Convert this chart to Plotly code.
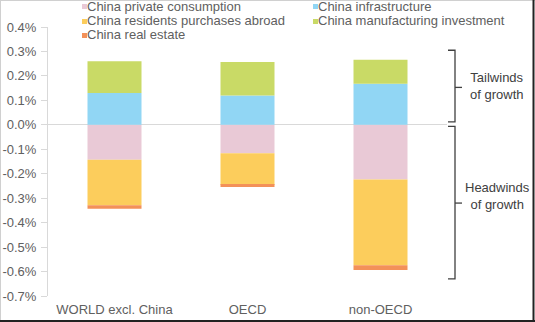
import plotly.graph_objects as go

# ---- data (percentage points) ----
categories = ["WORLD excl. China", "OECD", "non-OECD"]
series_names = [
    "China private consumption",
    "China infrastructure",
    "China residents purchases abroad",
    "China manufacturing investment",
    "China real estate",
]
private_consumption = [-0.143, -0.116, -0.224]
infrastructure = [0.130, 0.120, 0.168]
purchases_abroad = [-0.186, -0.130, -0.350]
manufacturing = [0.130, 0.137, 0.098]
real_estate = [-0.014, -0.008, -0.020]
series_values = [private_consumption, infrastructure, purchases_abroad, manufacturing, real_estate]
series_colors = ["#E9C9D6", "#91D6F4", "#FCCD5C", "#C9DA66", "#F39159"]

y_tick_values = [0.4, 0.3, 0.2, 0.1, 0.0, -0.1, -0.2, -0.3, -0.4, -0.5, -0.6, -0.7]
y_tick_labels = ["0.4%", "0.3%", "0.2%", "0.1%", "0.0%", "-0.1%", "-0.2%", "-0.3%",
                 "-0.4%", "-0.5%", "-0.6%", "-0.7%"]

# ---- layout geometry ----
W, H = 535, 322
ML, MR, MT, MB = 48, 88, 27, 26
PW, PH = W - ML - MR, H - MT - MB


def px_x(px):
    return (px - ML) / PW


def px_y(py):
    return (H - MB - py) / PH


FONT = "Liberation Sans, Arial, sans-serif"
GREY = "#606060"

fig = go.Figure()
for name, vals, col in zip(series_names, series_values, series_colors):
    fig.add_trace(go.Bar(x=categories, y=vals, name=name, marker=dict(color=col, line=dict(width=0)),
                         showlegend=False))

shapes = []
annotations = []

# manual legend (two columns, three rows)
leg_pos = [(82, 6), (313, 6), (82, 21), (313, 21), (82, 35)]
for (lx, ly), name, col in zip(leg_pos, series_names, series_colors):
    shapes.append(dict(type="rect", xref="paper", yref="paper",
                       x0=px_x(lx), x1=px_x(lx + 5), y0=px_y(ly + 3), y1=px_y(ly - 2),
                       fillcolor=col, line=dict(width=0)))
    annotations.append(dict(xref="paper", yref="paper", x=px_x(lx + 5), y=px_y(ly),
                            text=name, showarrow=False, xanchor="left", yanchor="middle",
                            borderpad=0, borderwidth=0,
                            font=dict(family=FONT, size=13, color=GREY)))

# brackets
br_col = "#404040"
xv, xl, xr = px_x(455), px_x(448), px_x(462)
for top, bot, mid in [(0.305, 0.012, 0.153), (-0.006, -0.63, -0.32)]:
    shapes.append(dict(type="path", xref="paper", yref="y",
                       path=f"M {xl},{top} L {xv},{top} L {xv},{bot} L {xl},{bot}",
                       line=dict(color=br_col, width=1.3)))
    shapes.append(dict(type="line", xref="paper", yref="y", x0=xv, x1=xr, y0=mid, y1=mid,
                       line=dict(color=br_col, width=1.3)))
annotations.append(dict(xref="paper", yref="y", x=px_x(497), y=0.16, text="Tailwinds<br>of growth",
                        showarrow=False, xanchor="center", yanchor="middle", align="center",
                        font=dict(family=FONT, size=13, color="#404040")))
annotations.append(dict(xref="paper", yref="y", x=px_x(497), y=-0.29, text="Headwinds<br>of growth",
                        showarrow=False, xanchor="center", yanchor="middle", align="center",
                        font=dict(family=FONT, size=13, color="#404040")))

# chart frame
shapes += [
    dict(type="line", xref="paper", yref="paper", x0=px_x(0), x1=px_x(W), y0=px_y(0.5), y1=px_y(0.5),
         line=dict(color="#d0d0d0", width=1)),
    dict(type="line", xref="paper", yref="paper", x0=px_x(0.5), x1=px_x(0.5), y0=px_y(0), y1=px_y(H),
         line=dict(color="#d0d0d0", width=1)),
    dict(type="line", xref="paper", yref="paper", x0=px_x(0), x1=px_x(W), y0=px_y(321), y1=px_y(321),
         line=dict(color="#222222", width=2)),
    dict(type="line", xref="paper", yref="paper", x0=px_x(533.5), x1=px_x(533.5), y0=px_y(0), y1=px_y(H),
         line=dict(color="#222222", width=2)),
]

fig.update_layout(
    width=W, height=H,
    margin=dict(l=ML, r=MR, t=MT, b=MB, pad=0, autoexpand=False),
    barmode="relative", bargap=0.594,
    paper_bgcolor="white", plot_bgcolor="white",
    font=dict(family=FONT, size=13, color=GREY),
    shapes=shapes, annotations=annotations,
    xaxis=dict(showline=False, showgrid=False, ticks="", tickfont=dict(size=13, color=GREY),
               ticklabelstandoff=4, automargin=False, fixedrange=True),
    yaxis=dict(range=[-0.7, 0.4], tickvals=y_tick_values, ticktext=y_tick_labels,
               showgrid=False, showline=True, linecolor="#d9d9d9", linewidth=1,
               ticks="outside", ticklen=6, tickcolor="#d9d9d9",
               zeroline=True, zerolinecolor="#d9d9d9", zerolinewidth=1,
               tickfont=dict(size=13, color=GREY), ticklabelstandoff=2,
               automargin=False, fixedrange=True),
)

fig.write_html("out.html", config={"displayModeBar": False})
